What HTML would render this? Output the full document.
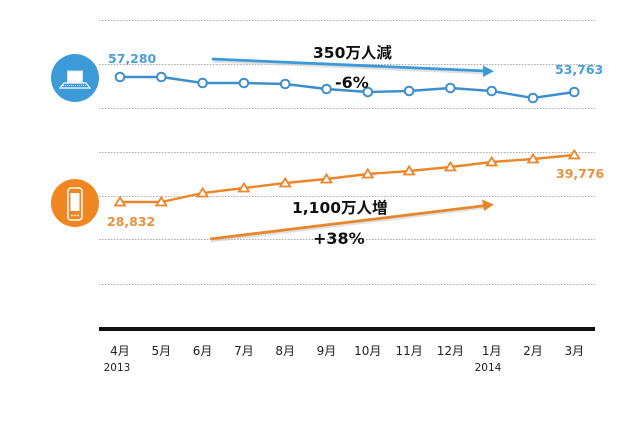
<!DOCTYPE html>
<html><head><meta charset="utf-8"><style>
html,body{margin:0;padding:0;background:#fff;}
svg{display:block;}
.lbl{font-family:"DejaVu Sans","Noto Sans CJK JP",sans-serif;font-weight:bold;}
.tick{font-family:"DejaVu Sans","Noto Sans CJK JP",sans-serif;font-size:12px;fill:#222;}
</style></head><body>
<svg width="639" height="426" viewBox="0 0 639 426" xmlns="http://www.w3.org/2000/svg">
<rect width="639" height="426" fill="#fff"/>
<g stroke="#aaa" stroke-width="1" stroke-dasharray="1.5,1.5">
<line x1="99" y1="20.5" x2="595" y2="20.5"/>
<line x1="99" y1="64.5" x2="595" y2="64.5"/>
<line x1="99" y1="108.5" x2="595" y2="108.5"/>
<line x1="99" y1="152.5" x2="595" y2="152.5"/>
<line x1="99" y1="196.5" x2="595" y2="196.5"/>
<line x1="99" y1="239.5" x2="595" y2="239.5"/>
<line x1="99" y1="284.5" x2="595" y2="284.5"/>
</g>
<line x1="99" y1="329" x2="595" y2="329" stroke="#111" stroke-width="4"/>

<!-- icons -->
<circle cx="75" cy="78" r="24" fill="#3d9ad8"/>
<rect x="67.5" y="71" width="15" height="11" fill="#fff" stroke="#cfe6f6" stroke-width="1"/>
<polygon points="64,83 86,83 90,88 60,88" fill="none" stroke="#fff" stroke-width="1.2"/>
<line x1="63" y1="85.5" x2="87" y2="85.5" stroke="#fff" stroke-width="0.8" stroke-dasharray="1,1"/>
<circle cx="75" cy="203" r="24" fill="#f0861f"/>
<rect x="68" y="188" width="14" height="32" rx="3" fill="none" stroke="#fff" stroke-width="1.5"/>
<rect x="70.5" y="193" width="9" height="18" fill="#fff"/>
<circle cx="72" cy="215.5" r="0.9" fill="#fff"/><circle cx="75" cy="215.5" r="0.9" fill="#fff"/><circle cx="78" cy="215.5" r="0.9" fill="#fff"/>

<!-- arrows -->
<line x1="213" y1="61" x2="487" y2="73" stroke="#ccc" stroke-width="3" opacity="0.6"/>
<line x1="212" y1="59" x2="486" y2="71" stroke="#3d9ad8" stroke-width="2.8"/>
<polygon points="494,71.3 483,65.5 483,77" fill="#3d9ad8"/>
<line x1="211" y1="241" x2="487" y2="207" stroke="#ccc" stroke-width="3" opacity="0.6"/>
<line x1="210" y1="239" x2="486" y2="205.5" stroke="#e8862c" stroke-width="2.8"/>
<polygon points="494,204.5 482,199.5 484,211" fill="#e8862c"/>

<!-- blue series -->
<polyline fill="none" stroke="#3d8fcc" stroke-width="2.4" points="120,77 161.3,77 202.6,83 243.9,83 285.2,84 326.5,89 367.8,92 409.1,91 450.4,88 491.7,91 533,98 574.3,92"/>
<g fill="#fff" stroke="#3d8fcc" stroke-width="2">
<circle cx="120" cy="77" r="4.3"/><circle cx="161.3" cy="77" r="4.3"/><circle cx="202.6" cy="83" r="4.3"/><circle cx="243.9" cy="83" r="4.3"/><circle cx="285.2" cy="84" r="4.3"/><circle cx="326.5" cy="89" r="4.3"/><circle cx="367.8" cy="92" r="4.3"/><circle cx="409.1" cy="91" r="4.3"/><circle cx="450.4" cy="88" r="4.3"/><circle cx="491.7" cy="91" r="4.3"/><circle cx="533" cy="98" r="4.3"/><circle cx="574.3" cy="92" r="4.3"/>
</g>

<!-- orange series -->
<polyline fill="none" stroke="#ec862a" stroke-width="2.4" points="120,202 161.3,202 202.6,193 243.9,188 285.2,183 326.5,179 367.8,174 409.1,171 450.4,167 491.7,162 533,159 574.3,155"/>
<g fill="#fff" stroke="#ec862a" stroke-width="1.8">
<polygon points="120,197.5 115,205.5 125,205.5"/>
<polygon points="161.3,197.5 156.3,205.5 166.3,205.5"/>
<polygon points="202.6,188.5 197.6,196.5 207.6,196.5"/>
<polygon points="243.9,183.5 238.9,191.5 248.9,191.5"/>
<polygon points="285.2,178.5 280.2,186.5 290.2,186.5"/>
<polygon points="326.5,174.5 321.5,182.5 331.5,182.5"/>
<polygon points="367.8,169.5 362.8,177.5 372.8,177.5"/>
<polygon points="409.1,166.5 404.1,174.5 414.1,174.5"/>
<polygon points="450.4,162.5 445.4,170.5 455.4,170.5"/>
<polygon points="491.7,157.5 486.7,165.5 496.7,165.5"/>
<polygon points="533,154.5 528,162.5 538,162.5"/>
<polygon points="574.3,150.5 569.3,158.5 579.3,158.5"/>
</g>

<!-- value labels -->
<text class="lbl" x="108" y="63" font-size="12.5" fill="#4a9fd6">57,280</text>
<text class="lbl" x="555" y="74" font-size="12.5" fill="#4a9fd6">53,763</text>
<text class="lbl" x="107" y="226" font-size="12.5" fill="#e8913a">28,832</text>
<text class="lbl" x="556" y="178" font-size="12.5" fill="#e8913a">39,776</text>

<!-- annotations -->
<text class="lbl" x="313" y="58" font-size="15.5" fill="#111">350万人減</text>
<text class="lbl" x="335" y="88" font-size="16" fill="#111">-6%</text>
<text class="lbl" x="292" y="213" font-size="15.5" fill="#111">1,100万人増</text>
<text class="lbl" x="313" y="244" font-size="16" fill="#111">+38%</text>

<!-- x ticks -->
<g class="tick" text-anchor="middle">
<text x="120" y="355">4月</text>
<text x="161.3" y="355">5月</text>
<text x="202.6" y="355">6月</text>
<text x="243.9" y="355">7月</text>
<text x="285.2" y="355">8月</text>
<text x="326.5" y="355">9月</text>
<text x="367.8" y="355">10月</text>
<text x="409.1" y="355">11月</text>
<text x="450.4" y="355">12月</text>
<text x="491.7" y="355">1月</text>
<text x="533" y="355">2月</text>
<text x="574.3" y="355">3月</text>
<text x="117" y="371" font-size="10.5">2013</text>
<text x="488" y="371" font-size="10.5">2014</text>
</g>
</svg>
</body></html>
